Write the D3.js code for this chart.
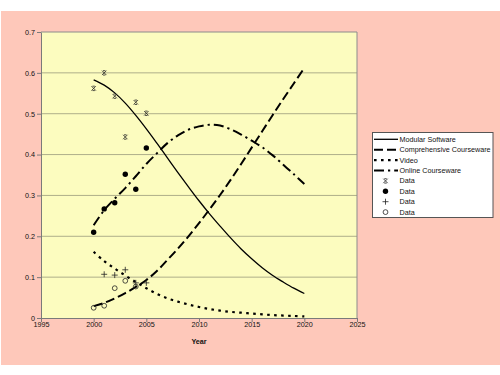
<!DOCTYPE html>
<html>
<head>
<meta charset="utf-8">
<script src="https://cdn.jsdelivr.net/npm/d3@7"></script>
<style>
  html, body { margin: 0; padding: 0; background: #fff; }
  svg { display: block; font-family: Arial, "Liberation Sans", sans-serif; }
</style>
</head>
<body>
<svg id="chart" width="500" height="375"></svg>
<script>
// ---- data ----
const curveYears = [2000, 2001, 2002, 2003, 2004, 2005, 2006, 2007, 2008, 2009, 2010,
                    2011, 2012, 2013, 2014, 2015, 2016, 2017, 2018, 2019, 2020];
const modularFit = [0.583, 0.570, 0.551, 0.526, 0.496, 0.463, 0.428, 0.392, 0.356, 0.321, 0.287,
                    0.255, 0.225, 0.196, 0.169, 0.145, 0.123, 0.104, 0.088, 0.073, 0.060];
const comprehensiveFit = [0.029, 0.037, 0.048, 0.061, 0.076, 0.093, 0.115, 0.142, 0.170, 0.200, 0.232,
                          0.266, 0.301, 0.338, 0.377, 0.417, 0.457, 0.497, 0.536, 0.574, 0.612];
const videoFit = [0.162, 0.139, 0.121, 0.104, 0.088, 0.073, 0.059, 0.048, 0.040, 0.033, 0.027,
                  0.022, 0.018, 0.015, 0.013, 0.011, 0.009, 0.007, 0.006, 0.005, 0.004];
const onlineFit = [0.227, 0.264, 0.292, 0.318, 0.347, 0.377, 0.403, 0.428, 0.447, 0.461, 0.469,
                   0.473, 0.471, 0.462, 0.449, 0.434, 0.418, 0.398, 0.375, 0.352, 0.328];

const modularYears = [2000, 2001, 2002, 2003, 2004, 2005];
const modularData = [0.562, 0.600, 0.543, 0.443, 0.528, 0.501];
const onlineYears = [2000, 2001, 2002, 2003, 2004, 2005];
const onlineData = [0.210, 0.267, 0.282, 0.352, 0.315, 0.416];
const videoYears = [2001, 2002, 2003, 2004, 2005];
const videoData = [0.107, 0.105, 0.118, 0.086, 0.086];
const comprehensiveYears = [2000, 2001, 2002, 2003, 2004];
const comprehensiveData = [0.025, 0.030, 0.073, 0.091, 0.077];

const xTicks = [1995, 2000, 2005, 2010, 2015, 2020, 2025];
const yTicks = [0, 0.1, 0.2, 0.3, 0.4, 0.5, 0.6, 0.7];
const lineNames = ["Modular Software", "Comprehensive Courseware", "Video", "Online Courseware"];
const markerNames = ["Data", "Data", "Data", "Data"];
const xTitle = "Year";

// ---- drawing ----
const svg = d3.select("#chart");
const FONT = 7.2;

svg.append("rect").attr("x", 1).attr("y", 11).attr("width", 499).attr("height", 354)
  .attr("fill", "#fec8ba");

const x = d3.scaleLinear().domain([1995, 2025]).range([41, 357]);
const y = d3.scaleLinear().domain([0, 0.7]).range([318, 32]);

svg.append("rect").attr("x", x(1995)).attr("y", y(0.7))
  .attr("width", x(2025) - x(1995)).attr("height", y(0) - y(0.7))
  .attr("fill", "#fcfcbf");

// gridlines
svg.append("g").selectAll("line").data(yTicks.filter(d => d > 0)).join("line")
  .attr("x1", x(1995)).attr("x2", x(2025))
  .attr("y1", d => y(d)).attr("y2", d => y(d))
  .attr("stroke", d => d === 0.7 ? "#8c8c8c" : "#aeae8a").attr("stroke-width", 1);
svg.append("line").attr("x1", x(2025)).attr("x2", x(2025)).attr("y1", y(0.7)).attr("y2", y(0))
  .attr("stroke", "#8c8c8c");

// axes
const xAxis = svg.append("g").attr("transform", `translate(0,${y(0)})`)
  .call(d3.axisBottom(x).tickValues(xTicks).tickFormat(d3.format("d")).tickSize(4).tickSizeOuter(0));
const yAxis = svg.append("g").attr("transform", `translate(${x(1995)},0)`)
  .call(d3.axisLeft(y).tickValues(yTicks).tickFormat(d => d === 0 ? "0" : d3.format(".1f")(d)).tickSize(4).tickSizeOuter(0));
[xAxis, yAxis].forEach(a => {
  a.select(".domain").attr("stroke", "#7a7a7a");
  a.selectAll(".tick line").attr("stroke", "#7a7a7a");
  a.selectAll(".tick text").attr("fill", "#111").style("font-size", FONT + "px")
    .style("font-family", "Arial, 'Liberation Sans', sans-serif");
});
xAxis.selectAll(".tick text").attr("dy", "0.2em").attr("y", 8);
yAxis.selectAll(".tick text").attr("x", -6);

svg.append("text").attr("x", (x(1995) + x(2025)) / 2).attr("y", 343.5)
  .attr("text-anchor", "middle").attr("font-weight", "bold").attr("font-size", FONT)
  .attr("fill", "#111").text(xTitle);

// fitted curves
const fits = [modularFit, comprehensiveFit, videoFit, onlineFit];
const dashes = [null, "9,4", "2.6,4.4", "10,4,2.2,4"];
const widths = [1.3, 2, 2.2, 2];
const lineGen = d3.line().x((d, i) => x(curveYears[i])).y(d => y(d)).curve(d3.curveCatmullRom);
fits.forEach((f, k) => {
  svg.append("path").datum(f).attr("d", lineGen)
    .attr("fill", "none").attr("stroke", "#000").attr("stroke-width", widths[k])
    .attr("stroke-dasharray", dashes[k]);
});

// markers
function drawMarker(g, type, cx, cy) {
  if (type === 0) {
    const s = 2.2;
    g.append("path").attr("d", `M${cx - s},${cy - s}L${cx + s},${cy + s}M${cx - s},${cy + s}L${cx + s},${cy - s}M${cx - 1.2},${cy - s}L${cx + 1.2},${cy - s}M${cx - 1.2},${cy + s}L${cx + 1.2},${cy + s}`)
      .attr("stroke", "#222").attr("stroke-width", 0.8).attr("fill", "none");
  } else if (type === 1) {
    g.append("circle").attr("cx", cx).attr("cy", cy).attr("r", 2.7).attr("fill", "#000");
  } else if (type === 2) {
    const s = 3;
    g.append("path").attr("d", `M${cx - s},${cy}L${cx + s},${cy}M${cx},${cy - s}L${cx},${cy + s}`)
      .attr("stroke", "#222").attr("stroke-width", 0.8).attr("fill", "none");
  } else {
    g.append("circle").attr("cx", cx).attr("cy", cy).attr("r", 2.4)
      .attr("fill", "none").attr("stroke", "#222").attr("stroke-width", 0.8);
  }
}
const markerSets = [
  [modularYears, modularData],
  [onlineYears, onlineData],
  [videoYears, videoData],
  [comprehensiveYears, comprehensiveData]
];
const mg = svg.append("g");
markerSets.forEach(([yrs, vals], k) => {
  vals.forEach((v, i) => drawMarker(mg, k, x(yrs[i]), y(v)));
});

// legend
const lg = svg.append("g");
lg.append("rect").attr("x", 372.5).attr("y", 132.5).attr("width", 120.5).attr("height", 85)
  .attr("fill", "#fff").attr("stroke", "#555").attr("stroke-width", 1);
const rowY = i => 139.3 + i * 10.4;
lineNames.forEach((name, k) => {
  lg.append("line").attr("x1", 374).attr("x2", 398).attr("y1", rowY(k)).attr("y2", rowY(k))
    .attr("stroke", "#000").attr("stroke-width", widths[k]).attr("stroke-dasharray", dashes[k]);
  lg.append("text").attr("x", 399.5).attr("y", rowY(k)).attr("dy", "0.35em")
    .attr("font-size", FONT).attr("fill", "#111").text(name);
});
markerNames.forEach((name, k) => {
  const r = rowY(k + 4);
  drawMarker(lg, k, 385.5, r);
  lg.append("text").attr("x", 399.5).attr("y", r).attr("dy", "0.35em")
    .attr("font-size", FONT).attr("fill", "#111").text(name);
});
</script>
</body>
</html>
